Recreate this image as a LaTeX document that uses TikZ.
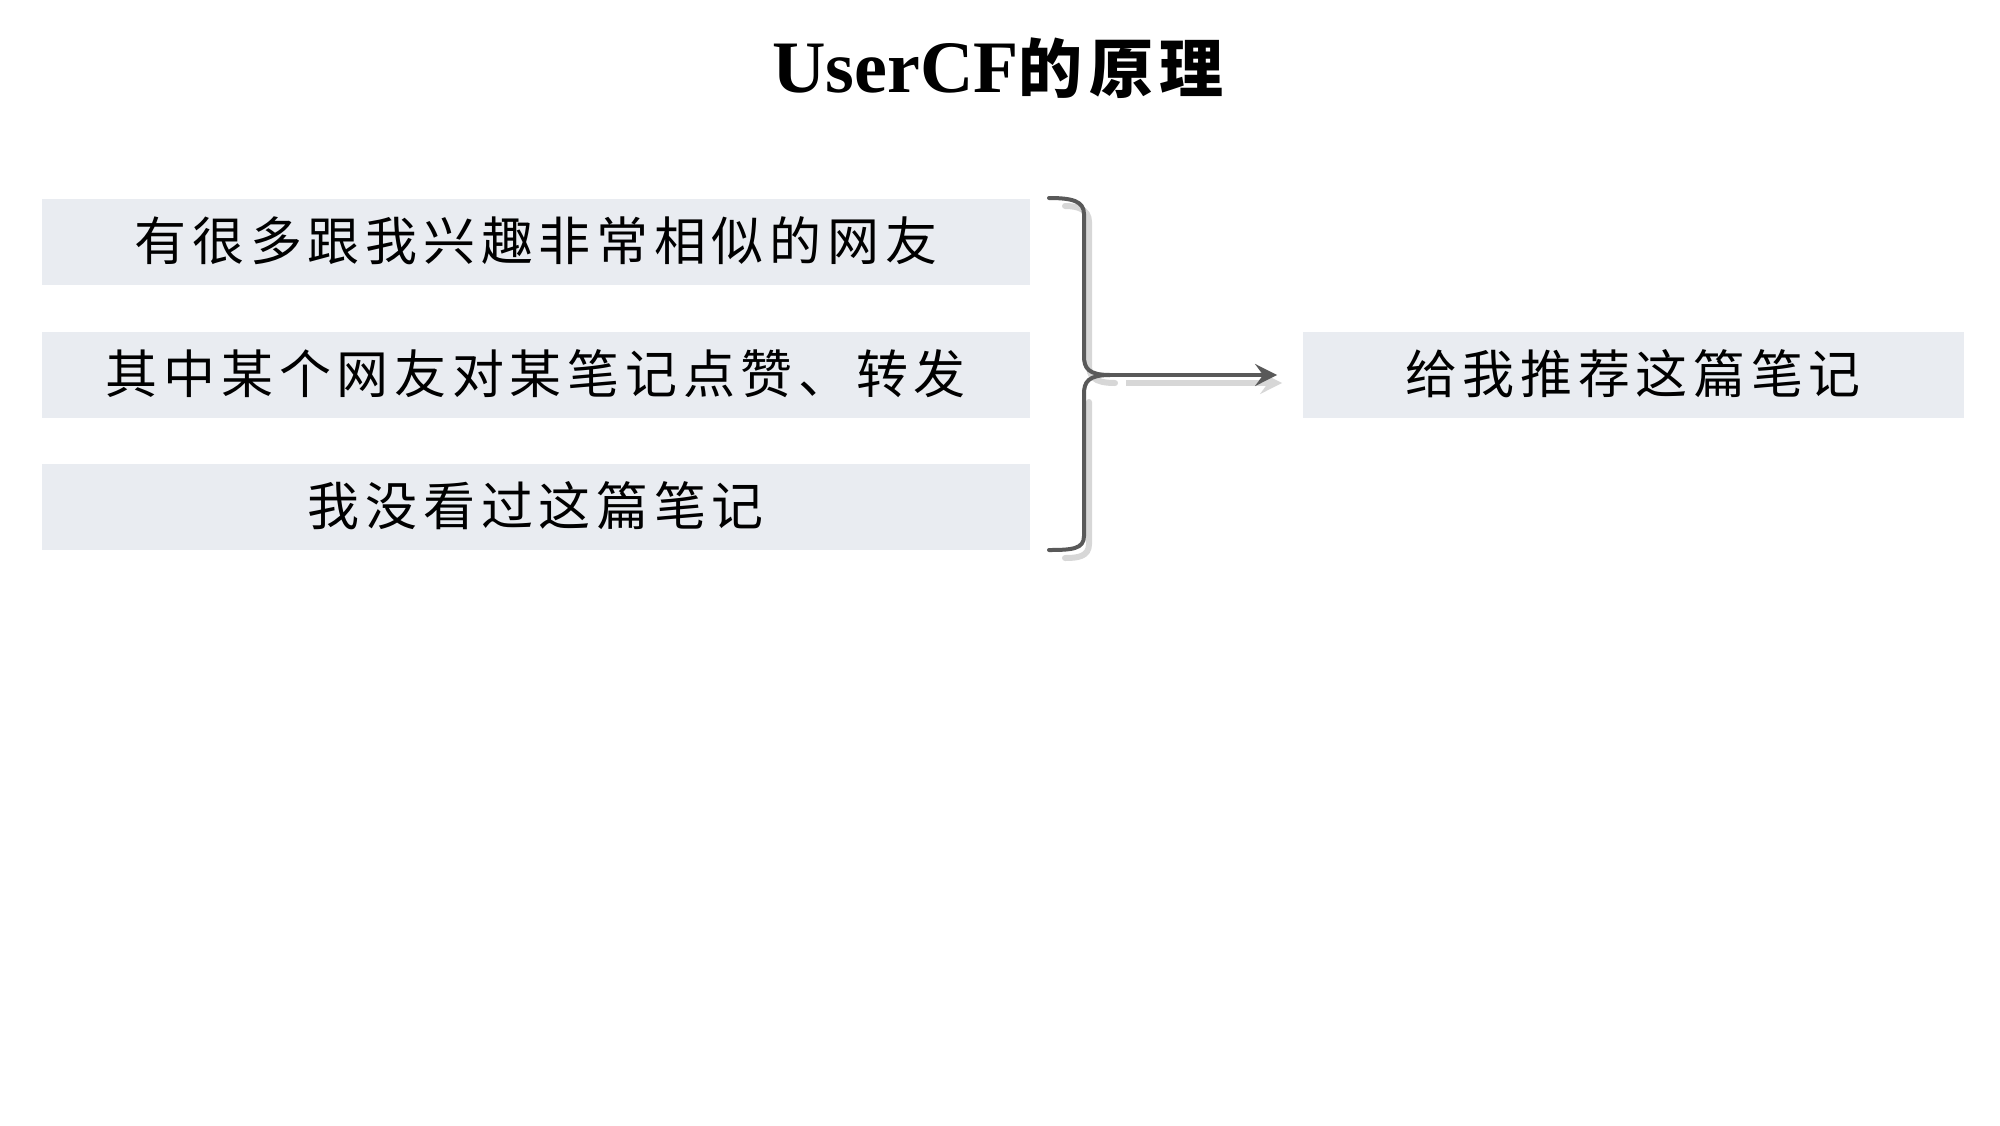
\documentclass[tikz,border=0pt]{standalone}
\usepackage{fontspec}
\setmainfont{Liberation Serif}
\newfontfamily\cjk{Noto Sans CJK SC}[LetterSpace=11]
\newfontfamily\cjktitle{Noto Sans CJK SC}[LetterSpace=10]
\usetikzlibrary{arrows.meta}
\definecolor{boxfill}{RGB}{233,236,241}
\definecolor{linegray}{RGB}{89,89,89}
\definecolor{shadowgray}{RGB}{215,215,215}
\newcommand{\boxtext}[1]{\raisebox{3.5pt}{#1}}
\begin{document}
\begin{tikzpicture}[x=0.5pt,y=-0.5pt,
  itembox/.style={fill=boxfill, draw=none, minimum width=494pt, minimum height=43pt, inner sep=0pt,
    font=\cjk\fontsize{26}{30}\selectfont},
  outbox/.style={itembox, minimum width=330.5pt},
  bracestyle/.style={draw=linegray, line width=2pt, line cap=round, line join=round},
  shadowstyle/.style={draw=shadowgray, line width=3pt, line cap=round, line join=round},
  arr/.style={draw=linegray, line width=2pt, -{Stealth[length=11pt,width=11pt,inset=4pt]}, shorten >=12.5pt},
  shadowarr/.style={draw=shadowgray, line width=3pt, -{Stealth[length=11pt,width=11pt,inset=4pt]}, shorten >=12.5pt}]
\useasboundingbox (0,0) rectangle (2000,1125);
% title
\node[anchor=base, inner sep=0pt] (title) at (998,92)
  {\fontsize{37}{44}\selectfont\bfseries UserCF{\cjktitle\fontsize{32}{40}\selectfont\bfseries 的原理}};
% boxes
\node[itembox] (b1) at (536,242) {\boxtext{有很多跟我兴趣非常相似的网友}};
\node[itembox] (b2) at (536,375) {\boxtext{其中某个网友对某笔记点赞、转发}};
\node[itembox] (b3) at (536,507) {\boxtext{我没看过这篇笔记}};
\node[outbox] (out) at (1633,375) {\boxtext{给我推荐这篇笔记}};
% brace tip
\coordinate (tip) at (1110,375);
\coordinate (tipsh) at (1114,383);
% shadows
\begin{scope}[shift={(5,8)}]
\draw[shadowstyle] (1060,198) .. controls (1072,198) and (1084,201) .. (1084,214) -- (1084,356)
  .. controls (1084,368) and (1088,375) .. (1110,375);
\draw[shadowstyle] (1084,394) -- (1084,536) .. controls (1084,549) and (1072,550) .. (1060,550);
\end{scope}
\draw[shadowarr, shorten <=6pt] (tipsh) -- ([xshift=2.5pt,yshift=-4pt]out.west);
% brace
\draw[bracestyle] (1049,198) .. controls (1072,198) and (1084,201) .. (1084,214) -- (1084,356)
  .. controls (1084,368) and (1088,375) .. (tip);
\draw[bracestyle] (tip) .. controls (1088,375) and (1084,382) .. (1084,394) -- (1084,536)
  .. controls (1084,549) and (1072,550) .. (1049,550);
% arrow
\draw[arr] (tip) -- (out.west);
\end{tikzpicture}
\end{document}
